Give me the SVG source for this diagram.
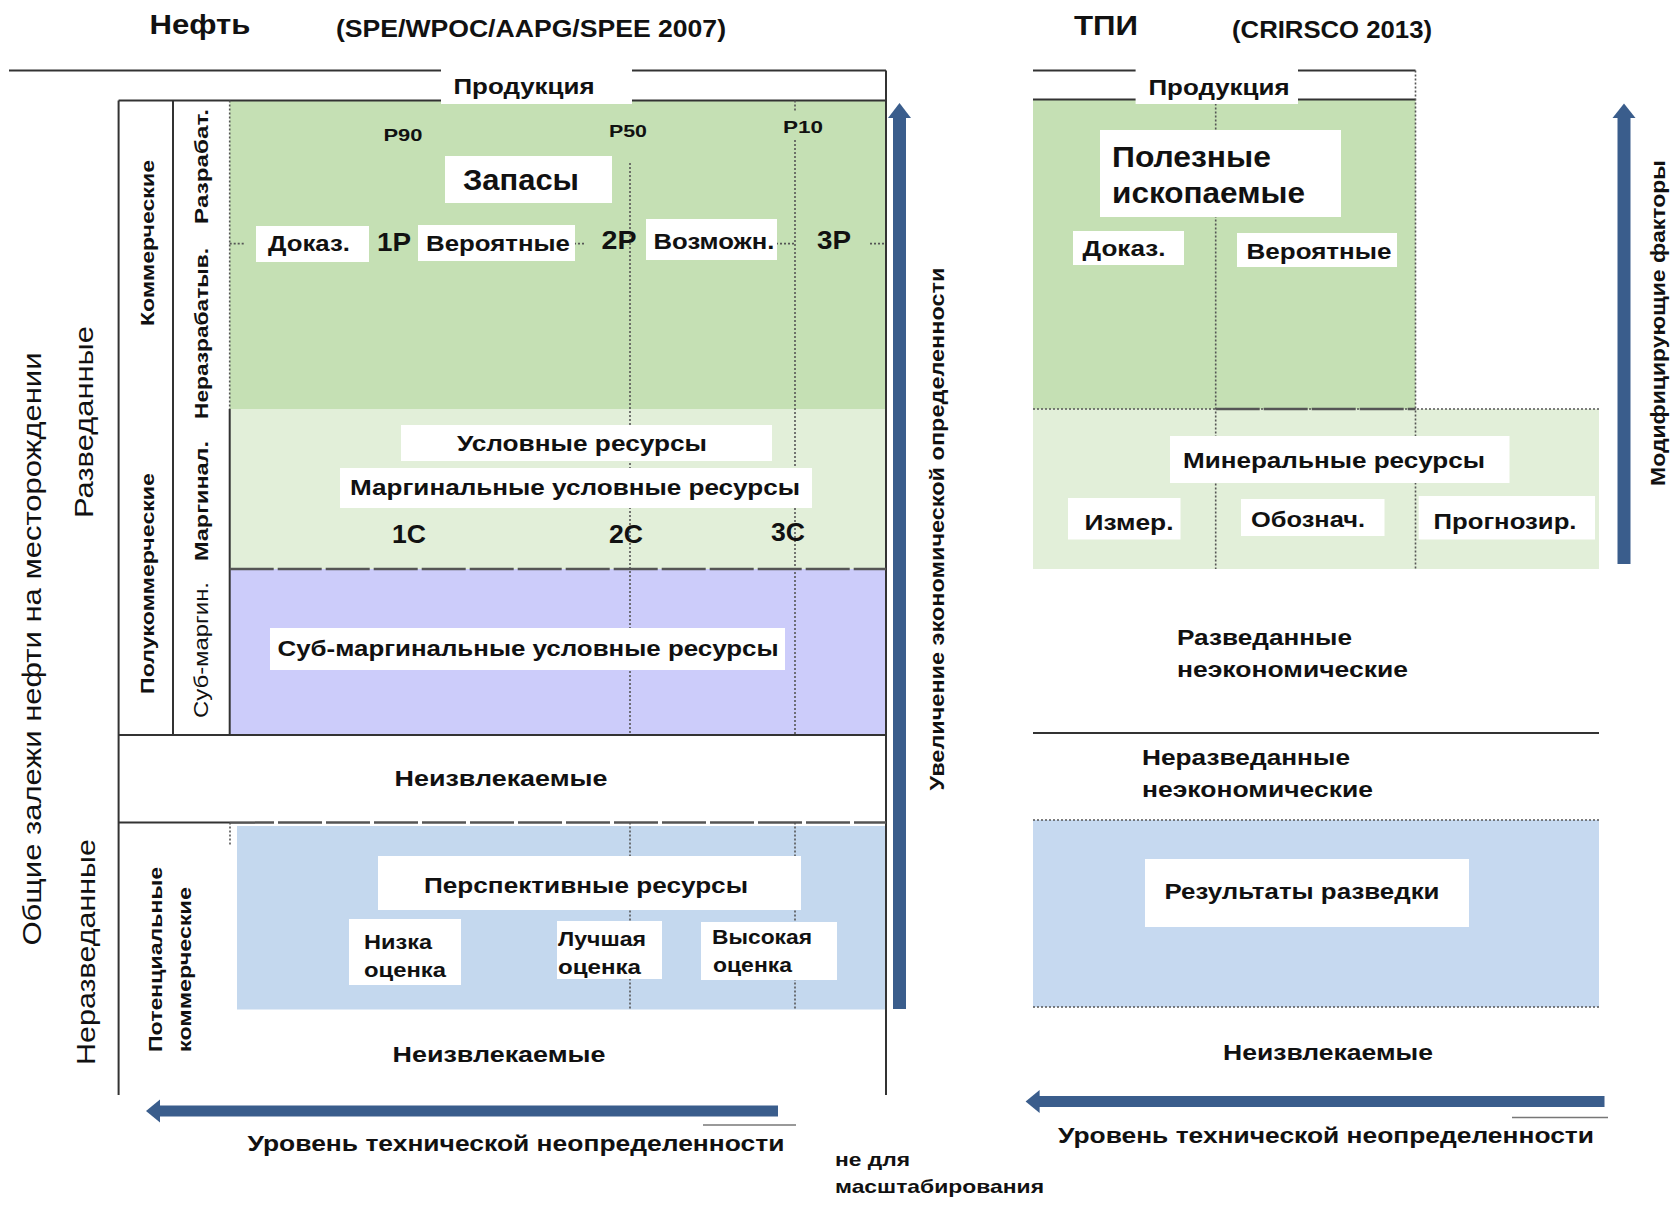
<svg xmlns="http://www.w3.org/2000/svg" width="1675" height="1205" viewBox="0 0 1675 1205">
<style>
.t{font-family:"Liberation Sans",Arial,sans-serif;font-weight:bold;fill:#111;}
.r{font-weight:normal;}
.c{text-anchor:middle;dominant-baseline:central;}
.s{dominant-baseline:central;}
.box{fill:#fff;}
.solid{stroke:#333;stroke-width:2;fill:none;}
.dot{stroke:#555;stroke-width:1.6;stroke-dasharray:2 2;fill:none;}
.dash{stroke:#555;stroke-width:2.5;stroke-dasharray:44 4;fill:none;}
.thin{stroke:#777;stroke-width:1.5;fill:none;}
.arr{fill:#3a5d8c;}
</style>
<rect width="1675" height="1205" fill="#fff"/>

<!-- ===== LEFT DIAGRAM ===== -->
<g id="left-titles">
<text class="t c" x="200" y="24" font-size="28" textLength="101" lengthAdjust="spacingAndGlyphs">Нефть</text>
<text class="t c" x="531" y="29" font-size="23" fill="#2a2a3a" textLength="390" lengthAdjust="spacingAndGlyphs">(SPE/WPOC/AAPG/SPEE 2007)</text>
</g>

<g id="left-areas">
<rect x="229.7" y="100.4" width="656" height="308.6" fill="#c5e0b4"/>
<rect x="229.7" y="409" width="656" height="160" fill="#e2efd9"/>
<rect x="229.7" y="569" width="656" height="166" fill="#ccccfa"/>
<rect x="237" y="826" width="649" height="183.5" fill="#c4d8ee"/>
</g>

<g id="left-frame">
<line class="solid" x1="9" y1="70.5" x2="886" y2="70.5"/>
<line class="solid" x1="886" y1="70.5" x2="886" y2="1095"/>
<line class="solid" x1="118.6" y1="100.4" x2="886" y2="100.4"/>
<line class="solid" x1="118.6" y1="100.4" x2="118.6" y2="1095"/>
<line class="solid" x1="173" y1="100.4" x2="173" y2="735"/>
<line class="dot" x1="229.7" y1="100.4" x2="229.7" y2="409"/>
<line class="solid" x1="229.7" y1="409" x2="229.7" y2="735"/>
<line class="dot" x1="630" y1="163" x2="630" y2="735"/>
<line class="dot" x1="795" y1="100.4" x2="795" y2="112"/>
<line class="dot" x1="795" y1="140" x2="795" y2="735"/>
<line class="dot" x1="630" y1="822.6" x2="630" y2="1009"/>
<line class="dot" x1="795" y1="822.6" x2="795" y2="1009"/>
<line class="dash" x1="229.7" y1="569" x2="886" y2="569"/>
<line class="solid" x1="118.6" y1="735" x2="886" y2="735"/>
<line class="solid" x1="118.6" y1="822.6" x2="230" y2="822.6"/>
<line class="dash" x1="230" y1="822.6" x2="886" y2="822.6"/>
<line class="dot" x1="230" y1="822.6" x2="230" y2="845"/>
<line class="dot" x1="229.7" y1="243.6" x2="244" y2="243.6"/>
<line class="dot" x1="574" y1="243.6" x2="584" y2="243.6"/>
<line class="dot" x1="776" y1="243.6" x2="795" y2="243.6"/>
<line class="dot" x1="870" y1="243.6" x2="886" y2="243.6"/>
</g>

<g id="left-production">
<rect class="box" x="441" y="66" width="191" height="38"/>
<text class="t c" x="524" y="86" font-size="22" textLength="141" lengthAdjust="spacingAndGlyphs">Продукция</text>
</g>

<g id="left-side-labels">
<text class="t r c" transform="translate(32,649) rotate(-90)" font-size="25" textLength="593" lengthAdjust="spacingAndGlyphs">Общие залежи нефти на месторождении</text>
<text class="t r c" transform="translate(84,422) rotate(-90)" font-size="25" textLength="192" lengthAdjust="spacingAndGlyphs">Разведанные</text>
<text class="t r c" transform="translate(86,952) rotate(-90)" font-size="25" textLength="226" lengthAdjust="spacingAndGlyphs">Неразведанные</text>
<text class="t c" transform="translate(147,243) rotate(-90)" font-size="19" textLength="166" lengthAdjust="spacingAndGlyphs">Коммерческие</text>
<text class="t c" transform="translate(147,583.5) rotate(-90)" font-size="19" textLength="221" lengthAdjust="spacingAndGlyphs">Полукоммерческие</text>
<text class="t c" transform="translate(201,166.5) rotate(-90)" font-size="19" textLength="115" lengthAdjust="spacingAndGlyphs">Разрабат.</text>
<text class="t c" transform="translate(201,333.5) rotate(-90)" font-size="19" textLength="171" lengthAdjust="spacingAndGlyphs">Неразрабатыв.</text>
<text class="t c" transform="translate(201,501) rotate(-90)" font-size="19" textLength="120" lengthAdjust="spacingAndGlyphs">Маргинал.</text>
<text class="t r c" transform="translate(201,650) rotate(-90)" font-size="20" textLength="136" lengthAdjust="spacingAndGlyphs">Суб-маргин.</text>
<text class="t s" transform="translate(155,1052) rotate(-90)" font-size="19" textLength="185" lengthAdjust="spacingAndGlyphs">Потенциальные</text>
<text class="t s" transform="translate(184,1052) rotate(-90)" font-size="19" textLength="165" lengthAdjust="spacingAndGlyphs">коммерческие</text>
</g>

<g id="left-percentiles">
<text class="t c" x="403" y="135" font-size="17" textLength="39" lengthAdjust="spacingAndGlyphs">P90</text>
<text class="t c" x="628" y="131" font-size="17" textLength="38" lengthAdjust="spacingAndGlyphs">P50</text>
<text class="t c" x="803" y="127" font-size="17" textLength="40" lengthAdjust="spacingAndGlyphs">P10</text>
</g>

<g id="node-zapasy">
<rect class="box" x="445" y="156" width="167" height="47"/>
<text class="t c" x="521" y="180" font-size="29" textLength="116" lengthAdjust="spacingAndGlyphs">Запасы</text>
</g>
<g id="node-dokaz">
<rect class="box" x="256" y="226" width="113" height="36"/>
<text class="t c" x="309" y="243" font-size="22" textLength="82" lengthAdjust="spacingAndGlyphs">Доказ.</text>
</g>
<g id="label-1p"><text class="t c" x="394" y="242" font-size="25" textLength="34" lengthAdjust="spacingAndGlyphs">1P</text></g>
<g id="node-veroyatnye">
<rect class="box" x="418" y="225" width="157" height="36"/>
<text class="t c" x="498" y="243" font-size="22" textLength="144" lengthAdjust="spacingAndGlyphs">Вероятные</text>
</g>
<g id="label-2p"><text class="t c" x="619" y="240" font-size="25" textLength="35" lengthAdjust="spacingAndGlyphs">2P</text></g>
<g id="node-vozmozhn">
<rect class="box" x="646" y="219" width="131" height="41"/>
<text class="t c" x="714" y="241" font-size="22" textLength="121" lengthAdjust="spacingAndGlyphs">Возможн.</text>
</g>
<g id="label-3p"><text class="t c" x="834" y="240" font-size="25" textLength="34" lengthAdjust="spacingAndGlyphs">3P</text></g>

<g id="node-uslovnye">
<rect class="box" x="401" y="425" width="371" height="36"/>
<text class="t c" x="582" y="443" font-size="22" textLength="250" lengthAdjust="spacingAndGlyphs">Условные ресурсы</text>
</g>
<g id="node-marginalnye">
<rect class="box" x="340" y="468" width="472" height="40"/>
<text class="t c" x="575" y="487" font-size="22" textLength="450" lengthAdjust="spacingAndGlyphs">Маргинальные условные ресурсы</text>
</g>
<g id="labels-c">
<text class="t c" x="409" y="534" font-size="25" textLength="34" lengthAdjust="spacingAndGlyphs">1C</text>
<text class="t c" x="626" y="534" font-size="25" textLength="34" lengthAdjust="spacingAndGlyphs">2C</text>
<text class="t c" x="788" y="532" font-size="25" textLength="34" lengthAdjust="spacingAndGlyphs">3C</text>
</g>
<g id="node-submarginal">
<rect class="box" x="270" y="628" width="515" height="42"/>
<text class="t c" x="528" y="648" font-size="22" textLength="501" lengthAdjust="spacingAndGlyphs">Суб-маргинальные условные ресурсы</text>
</g>
<g id="label-neizvl-1">
<text class="t c" x="501" y="778" font-size="22" textLength="213" lengthAdjust="spacingAndGlyphs">Неизвлекаемые</text>
</g>
<g id="node-perspektivnye">
<rect class="box" x="378" y="856" width="423" height="54"/>
<text class="t c" x="586" y="885" font-size="22" textLength="324" lengthAdjust="spacingAndGlyphs">Перспективные ресурсы</text>
</g>
<g id="node-nizka">
<rect class="box" x="349" y="919" width="112" height="66"/>
<text class="t s" x="364" y="942" font-size="20" textLength="68" lengthAdjust="spacingAndGlyphs">Низка</text>
<text class="t s" x="364" y="970" font-size="20" textLength="82" lengthAdjust="spacingAndGlyphs">оценка</text>
</g>
<g id="node-luchshaya">
<rect class="box" x="557" y="921" width="105" height="58"/>
<text class="t s" x="558" y="939" font-size="20" textLength="88" lengthAdjust="spacingAndGlyphs">Лучшая</text>
<text class="t s" x="558" y="967" font-size="20" textLength="83" lengthAdjust="spacingAndGlyphs">оценка</text>
</g>
<g id="node-vysokaya">
<rect class="box" x="701" y="922" width="136" height="58"/>
<text class="t s" x="712" y="937" font-size="20" textLength="100" lengthAdjust="spacingAndGlyphs">Высокая</text>
<text class="t s" x="713" y="965" font-size="20" textLength="79" lengthAdjust="spacingAndGlyphs">оценка</text>
</g>
<g id="label-neizvl-2">
<text class="t c" x="499" y="1054" font-size="22" textLength="213" lengthAdjust="spacingAndGlyphs">Неизвлекаемые</text>
</g>
<g id="left-axis-labels">
<text class="t c" transform="translate(937,529) rotate(-90)" font-size="20" textLength="523" lengthAdjust="spacingAndGlyphs">Увеличение экономической определенности</text>
<text class="t c" x="516" y="1143" font-size="22" textLength="537" lengthAdjust="spacingAndGlyphs">Уровень технической неопределенности</text>
<text class="t s" x="835" y="1159" font-size="19" textLength="75" lengthAdjust="spacingAndGlyphs">не для</text>
<text class="t s" x="835" y="1186" font-size="19" textLength="209" lengthAdjust="spacingAndGlyphs">масштабирования</text>
</g>

<!-- ===== RIGHT DIAGRAM ===== -->
<g id="right-titles">
<text class="t c" x="1106" y="25" font-size="28" textLength="64" lengthAdjust="spacingAndGlyphs">ТПИ</text>
<text class="t c" x="1332" y="30" font-size="23" fill="#2a2a3a" textLength="200" lengthAdjust="spacingAndGlyphs">(CRIRSCO 2013)</text>
</g>
<g id="right-areas">
<rect x="1033" y="99.4" width="382.5" height="309.6" fill="#c5e0b4"/>
<rect x="1033" y="409" width="566" height="160" fill="#e2efd9"/>
<rect x="1033" y="820" width="566" height="187" fill="#c6d9f0"/>
</g>
<g id="right-frame">
<line class="solid" x1="1033" y1="70.5" x2="1415.5" y2="70.5"/>
<line class="solid" x1="1033" y1="99.4" x2="1415.5" y2="99.4"/>
<line class="dot" x1="1415.5" y1="70.5" x2="1415.5" y2="569"/>
<line class="dot" x1="1215.7" y1="99.4" x2="1215.7" y2="569"/>
<line class="dot" x1="1033" y1="409" x2="1599" y2="409"/>
<line class="dash" x1="1215.7" y1="409" x2="1415.5" y2="409"/>
<line class="solid" x1="1033" y1="733" x2="1599" y2="733"/>
<line class="dot" x1="1033" y1="820" x2="1599" y2="820"/>
<line class="dot" x1="1033" y1="1007" x2="1599" y2="1007"/>
</g>
<g id="right-production">
<rect class="box" x="1135.6" y="66" width="162.4" height="38"/>
<text class="t c" x="1219" y="87" font-size="22" textLength="141" lengthAdjust="spacingAndGlyphs">Продукция</text>
</g>
<g id="node-poleznye">
<rect class="box" x="1100" y="130" width="241" height="87"/>
<text class="t s" x="1112" y="157" font-size="29" textLength="159" lengthAdjust="spacingAndGlyphs">Полезные</text>
<text class="t s" x="1112" y="193" font-size="29" textLength="193" lengthAdjust="spacingAndGlyphs">ископаемые</text>
</g>
<g id="node-dokaz-r">
<rect class="box" x="1073" y="231" width="111" height="34"/>
<text class="t c" x="1124" y="248" font-size="22" textLength="83" lengthAdjust="spacingAndGlyphs">Доказ.</text>
</g>
<g id="node-veroyatnye-r">
<rect class="box" x="1237" y="233" width="160" height="34"/>
<text class="t c" x="1319" y="251" font-size="22" textLength="145" lengthAdjust="spacingAndGlyphs">Вероятные</text>
</g>
<g id="node-mineralnye">
<rect class="box" x="1170" y="436" width="339.5" height="47"/>
<text class="t c" x="1334" y="460" font-size="22" textLength="302" lengthAdjust="spacingAndGlyphs">Минеральные ресурсы</text>
</g>
<g id="node-izmer">
<rect class="box" x="1068" y="498" width="112.5" height="41.5"/>
<text class="t c" x="1129" y="522" font-size="22" textLength="89" lengthAdjust="spacingAndGlyphs">Измер.</text>
</g>
<g id="node-oboznach">
<rect class="box" x="1241" y="499" width="143.5" height="37"/>
<text class="t c" x="1308" y="519" font-size="22" textLength="114" lengthAdjust="spacingAndGlyphs">Обознач.</text>
</g>
<g id="node-prognozir">
<rect class="box" x="1418.7" y="496" width="176.3" height="43.5"/>
<text class="t c" x="1505" y="521" font-size="22" textLength="143" lengthAdjust="spacingAndGlyphs">Прогнозир.</text>
</g>
<g id="label-razved-neek">
<text class="t s" x="1177" y="637" font-size="22" textLength="175" lengthAdjust="spacingAndGlyphs">Разведанные</text>
<text class="t s" x="1177" y="669" font-size="22" textLength="231" lengthAdjust="spacingAndGlyphs">неэкономические</text>
</g>
<g id="label-nerazved-neek">
<text class="t s" x="1142" y="757" font-size="22" textLength="208" lengthAdjust="spacingAndGlyphs">Неразведанные</text>
<text class="t s" x="1142" y="789" font-size="22" textLength="231" lengthAdjust="spacingAndGlyphs">неэкономические</text>
</g>
<g id="node-rezultaty">
<rect class="box" x="1145" y="859" width="324" height="68"/>
<text class="t c" x="1302" y="891" font-size="22" textLength="275" lengthAdjust="spacingAndGlyphs">Результаты разведки</text>
</g>
<g id="label-neizvl-r">
<text class="t c" x="1328" y="1052" font-size="22" textLength="210" lengthAdjust="spacingAndGlyphs">Неизвлекаемые</text>
</g>
<g id="right-axis-labels">
<text class="t c" transform="translate(1658,323) rotate(-90)" font-size="20" textLength="326" lengthAdjust="spacingAndGlyphs">Модифицирующие факторы</text>
<text class="t c" x="1326" y="1135" font-size="22" textLength="536" lengthAdjust="spacingAndGlyphs">Уровень технической неопределенности</text>
</g>

<!-- ===== CONNECTORS (arrows) ===== -->
<g id="connectors">
<rect class="arr" x="893" y="114" width="13" height="895"/>
<polygon class="arr" points="899.5,103 911,118 888,118"/>
<rect class="arr" x="1617.5" y="114" width="13" height="450"/>
<polygon class="arr" points="1624,103.6 1635.5,118 1612.5,118"/>
<rect class="arr" x="158" y="1105.5" width="620" height="11"/>
<polygon class="arr" points="146,1111 160,1099.5 160,1122.5"/>
<rect class="arr" x="1037" y="1096" width="567.5" height="11"/>
<polygon class="arr" points="1025.6,1101.5 1039.6,1090 1039.6,1113"/>
<line class="thin" x1="703" y1="1125" x2="796" y2="1125"/>
<line class="thin" x1="1512" y1="1117.5" x2="1608" y2="1117.5"/>
</g>
</svg>
